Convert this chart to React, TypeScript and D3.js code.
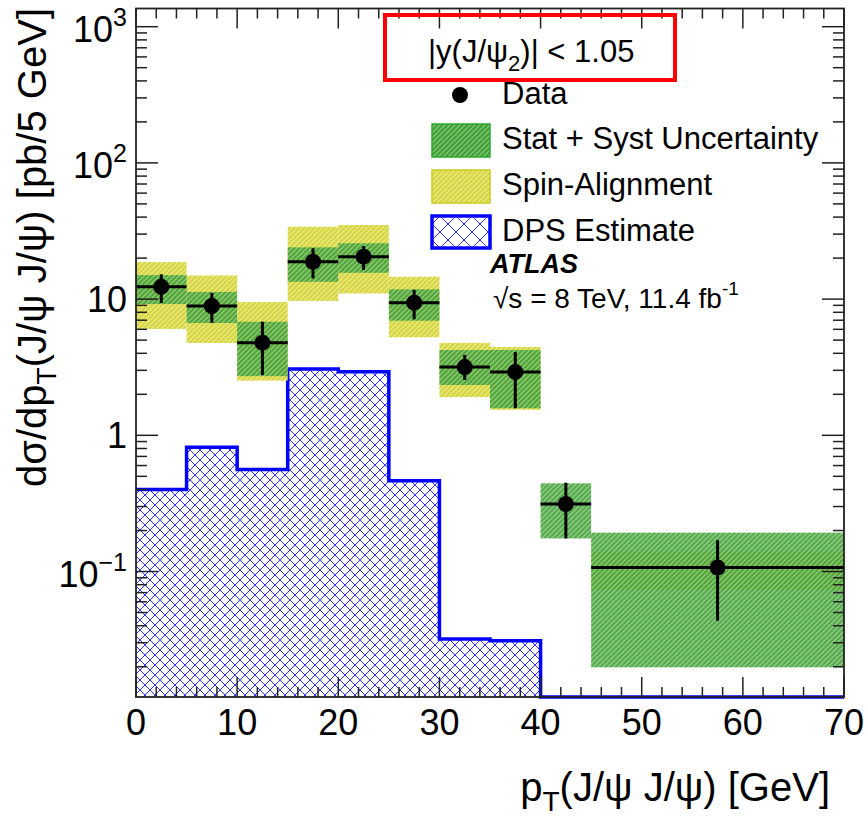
import React, { useEffect, useRef } from 'react'
import * as d3 from 'd3'

// bins in pT(J/psi J/psi) [GeV]
const binLo = [0, 5, 10, 15, 20, 25, 30, 35, 40, 45]
const binHi = [5, 10, 15, 20, 25, 30, 35, 40, 45, 70]
const binCenter = [2.5, 7.5, 12.5, 17.5, 22.5, 27.5, 32.5, 37.5, 42.5, 57.5]

// measured cross section [pb/5 GeV]
const dataVal = [12.3, 8.9, 4.79, 18.8, 20.5, 9.41, 3.17, 2.92, 0.313, 0.107]
const errUp = [15.2, 11.1, 6.82, 23.6, 24.5, 11.7, 3.89, 4.09, 0.449, 0.17]
const errDown = [9.36, 6.7, 2.77, 14.2, 16.4, 7.11, 2.55, 1.58, 0.175, 0.0435]

// stat + syst band
const statSystUp = [15.0, 11.3, 6.82, 24.0, 25.7, 11.8, 4.23, 4.23, 0.444, 0.193]
const statSystDown = [9.2, 6.67, 2.72, 13.4, 15.6, 6.94, 2.34, 1.58, 0.175, 0.0198]

// spin-alignment envelope
const spinUp = [18.7, 14.9, 9.52, 34.0, 35.0, 14.6, 4.77, 4.45, null, 0.14]
const spinDown = [6.04, 4.76, 2.52, 9.69, 11.0, 5.24, 1.91, 1.54, null, 0.073]

// DPS estimate
const dpsVal = [0.4, 0.817, 0.562, 3.07, 2.93, 0.464, 0.032, 0.031, 0, 0]

const xTicks = d3.range(0, 71, 10)
const yMajor = [0.1, 1, 10, 100, 1000]
const yLabels = [['10', '\u22121'], ['1', ''], ['10', ''], ['10', '2'], ['10', '3']]

const FONT = 'Liberation Sans, Arial, Helvetica, sans-serif'

export default function App() {
  const ref = useRef(null)

  useEffect(() => {
    const svg = d3.select(ref.current)
    svg.selectAll('*').remove()

    const left = 136, right = 844, top = 8.5, bottom = 697
    const x = d3.scaleLinear().domain([0, 70]).range([left, right])
    const y = d3.scaleLog().domain([0.01199, 1360]).range([bottom, top])
    const yc = v => (v > 0 ? Math.min(bottom, y(v)) : bottom)

    const defs = svg.append('defs')
    const dps = (id, s) => {
      const p = defs.append('pattern').attr('id', id).attr('patternUnits', 'userSpaceOnUse')
        .attr('width', s).attr('height', s)
      p.append('path').attr('d', `M0,0L${s},${s}M${s},0L0,${s}`)
        .attr('stroke', '#3030ff').attr('stroke-width', 1).attr('fill', 'none')
    }
    dps('dpsHatch', 10)
    dps('dpsHatchLeg', 16)
    const streak = (id, base, line) => {
      const p = defs.append('pattern').attr('id', id).attr('patternUnits', 'userSpaceOnUse')
        .attr('width', 5).attr('height', 5)
      p.append('rect').attr('width', 5).attr('height', 5).attr('fill', base)
      p.append('path').attr('d', 'M0,5L5,0M-1,1L1,-1M4,6L6,4')
        .attr('stroke', line).attr('stroke-width', 1.2)
    }
    streak('greenHatch', '#42a03a', '#8ccc7e')
    streak('yellowHatch', '#d6d642', '#eeee92')

    // DPS histogram
    const steps = binLo.map((lo, i) => [lo, dpsVal[i]])
    steps.push([70, dpsVal[dpsVal.length - 1]])
    svg.append('path').datum(steps)
      .attr('d', d3.area().curve(d3.curveStepAfter).x(d => x(d[0])).y0(bottom).y1(d => yc(d[1])))
      .attr('fill', 'url(#dpsHatch)')
    svg.append('path').datum(steps)
      .attr('d', d3.line().curve(d3.curveStepAfter).x(d => x(d[0])).y(d => yc(d[1])))
      .attr('fill', 'none').attr('stroke', '#0000ff').attr('stroke-width', 3.5)

    // spin-alignment band
    binLo.forEach((lo, i) => {
      if (spinUp[i] == null) return
      svg.append('rect')
        .attr('x', x(lo)).attr('width', x(binHi[i]) - x(lo))
        .attr('y', y(spinUp[i])).attr('height', y(spinDown[i]) - y(spinUp[i]))
        .attr('fill', 'url(#yellowHatch)')
    })

    // stat + syst band
    binLo.forEach((lo, i) => {
      svg.append('rect')
        .attr('x', x(lo)).attr('width', x(binHi[i]) - x(lo))
        .attr('y', y(statSystUp[i])).attr('height', y(statSystDown[i]) - y(statSystUp[i]))
        .attr('fill', 'url(#greenHatch)').attr('opacity', 0.88)
    })

    // data points
    binLo.forEach((lo, i) => {
      const g = svg.append('g').attr('stroke', '#000').attr('stroke-width', 3)
      g.append('line').attr('x1', x(lo)).attr('x2', x(binHi[i]))
        .attr('y1', y(dataVal[i])).attr('y2', y(dataVal[i]))
      g.append('line').attr('x1', x(binCenter[i])).attr('x2', x(binCenter[i]))
        .attr('y1', y(errUp[i])).attr('y2', y(errDown[i]))
      svg.append('circle').attr('cx', x(binCenter[i])).attr('cy', y(dataVal[i]))
        .attr('r', 8).attr('fill', '#000')
    })

    // frame and ticks
    svg.append('rect').attr('x', left).attr('y', top)
      .attr('width', right - left).attr('height', bottom - top)
      .attr('fill', 'none').attr('stroke', '#222').attr('stroke-width', 1.8)
    const tk = svg.append('g').attr('stroke', '#222').attr('stroke-width', 1.5)
    d3.range(0, 71, 2).forEach(t => {
      const len = t % 10 === 0 ? 20 : 10
      tk.append('line').attr('x1', x(t)).attr('x2', x(t)).attr('y1', bottom).attr('y2', bottom - len)
      tk.append('line').attr('x1', x(t)).attr('x2', x(t)).attr('y1', top).attr('y2', top + len)
    })
    const yAll = []
    d3.range(-2, 4).forEach(e => d3.range(1, 10).forEach(m => yAll.push([m * Math.pow(10, e), m === 1])))
    yAll.filter(d => d[0] >= 0.01199 && d[0] <= 1360).forEach(([v, major]) => {
      const len = major ? 22 : 11
      tk.append('line').attr('x1', left).attr('x2', left + len).attr('y1', y(v)).attr('y2', y(v))
      tk.append('line').attr('x1', right).attr('x2', right - len).attr('y1', y(v)).attr('y2', y(v))
    })

    // tick labels
    xTicks.forEach(t => {
      svg.append('text').attr('x', x(t)).attr('y', 735).attr('text-anchor', 'middle')
        .attr('font-family', FONT).attr('font-size', 36).text(t)
    })
    yMajor.forEach((v, i) => {
      const [base, sup] = yLabels[i]
      const t = svg.append('text').attr('x', 127).attr('y', y(v) + (sup ? 15 : 12.5))
        .attr('text-anchor', 'end').attr('font-family', FONT).attr('font-size', 36)
      t.append('tspan').text(base)
      if (sup) t.append('tspan').attr('font-size', 25).attr('dy', -16).text(sup)
    })

    // axis titles
    const xt = svg.append('text').attr('x', 830).attr('y', 801).attr('text-anchor', 'end')
      .attr('font-family', FONT).attr('font-size', 40)
    xt.append('tspan').text('p')
    xt.append('tspan').attr('font-size', 28).attr('dy', 10).text('T')
    xt.append('tspan').attr('dy', -10).text('(J/\u03c8 J/\u03c8) [GeV]')

    const yt = svg.append('text').attr('transform', 'rotate(-90)')
      .attr('x', -8).attr('y', 46).attr('text-anchor', 'end')
      .attr('font-family', FONT).attr('font-size', 40)
    yt.append('tspan').text('d\u03c3/dp')
    yt.append('tspan').attr('font-size', 28).attr('dy', 10).text('T')
    yt.append('tspan').attr('dy', -10).text('(J/\u03c8 J/\u03c8) [pb/5 GeV]')

    // legend
    svg.append('rect').attr('x', 385).attr('y', 15).attr('width', 290).attr('height', 65)
      .attr('fill', 'none').attr('stroke', '#ff0000').attr('stroke-width', 4)
    const hd = svg.append('text').attr('x', 428).attr('y', 62)
      .attr('font-family', FONT).attr('font-size', 31)
    hd.append('tspan').text('|y(J/\u03c8')
    hd.append('tspan').attr('font-size', 22).attr('dy', 9).text('2')
    hd.append('tspan').attr('dy', -9).text(')| < 1.05')

    const leg = svg.append('g').attr('font-family', FONT).attr('font-size', 31)
    leg.append('circle').attr('cx', 460).attr('cy', 95).attr('r', 8).attr('fill', '#000')
    leg.append('text').attr('x', 502).attr('y', 104).text('Data')
    leg.append('rect').attr('x', 432).attr('y', 124).attr('width', 58).attr('height', 33)
      .attr('fill', 'url(#greenHatch)').attr('stroke', '#2ea82e').attr('stroke-width', 1.5)
    leg.append('text').attr('x', 502).attr('y', 149).text('Stat + Syst Uncertainty')
    leg.append('rect').attr('x', 432).attr('y', 170).attr('width', 58).attr('height', 33)
      .attr('fill', 'url(#yellowHatch)').attr('stroke', '#caca20').attr('stroke-width', 1.5)
    leg.append('text').attr('x', 502).attr('y', 195).text('Spin-Alignment')
    leg.append('rect').attr('x', 432).attr('y', 216).attr('width', 58).attr('height', 32)
      .attr('fill', 'url(#dpsHatchLeg)').attr('stroke', '#0000ff').attr('stroke-width', 3.5)
    leg.append('text').attr('x', 502).attr('y', 241).text('DPS Estimate')

    svg.append('text').attr('x', 490).attr('y', 273).attr('font-family', FONT)
      .attr('font-size', 27).attr('font-weight', 'bold').attr('font-style', 'italic').text('ATLAS')
    const en = svg.append('text').attr('x', 493).attr('y', 308)
      .attr('font-family', FONT).attr('font-size', 28)
    en.append('tspan').text('\u221as = 8 TeV, 11.4 fb')
    en.append('tspan').attr('font-size', 19).attr('dy', -13).text('-1')
  }, [])

  return (
    <div style={{ position: 'absolute', left: 0, top: 0 }}>
      <svg ref={ref} width={868} height={816} style={{ display: 'block', background: '#fff' }} />
    </div>
  )
}
